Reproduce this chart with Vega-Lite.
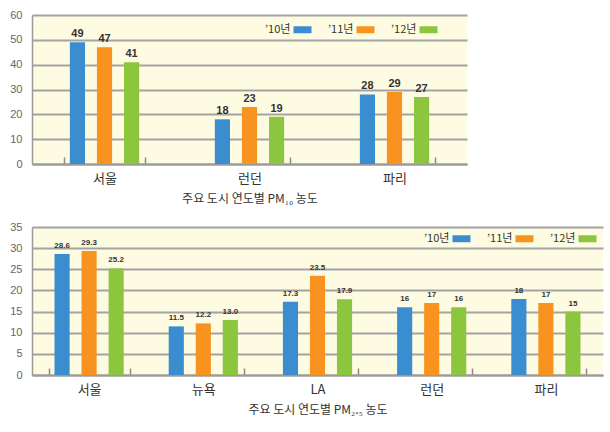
{
  "$schema": "https://vega.github.io/schema/vega-lite/v6.json",
  "background": "white",
  "padding": {"left": 9, "top": 9, "right": 5, "bottom": 5},
  "spacing": 17,
  "datasets": {
    "pm10": [
      {"city": "서울", "year": "’10년", "value": 49, "label": "49"},
      {"city": "서울", "year": "’11년", "value": 47, "label": "47"},
      {"city": "서울", "year": "’12년", "value": 41, "label": "41"},
      {"city": "런던", "year": "’10년", "value": 18, "label": "18"},
      {"city": "런던", "year": "’11년", "value": 23, "label": "23"},
      {"city": "런던", "year": "’12년", "value": 19, "label": "19"},
      {"city": "파리", "year": "’10년", "value": 28, "label": "28"},
      {"city": "파리", "year": "’11년", "value": 29, "label": "29"},
      {"city": "파리", "year": "’12년", "value": 27, "label": "27"}
    ],
    "pm25": [
      {"city": "서울", "year": "’10년", "value": 28.6, "label": "28.6"},
      {"city": "서울", "year": "’11년", "value": 29.3, "label": "29.3"},
      {"city": "서울", "year": "’12년", "value": 25.2, "label": "25.2"},
      {"city": "뉴욕", "year": "’10년", "value": 11.5, "label": "11.5"},
      {"city": "뉴욕", "year": "’11년", "value": 12.2, "label": "12.2"},
      {"city": "뉴욕", "year": "’12년", "value": 13.0, "label": "13.0"},
      {"city": "LA", "year": "’10년", "value": 17.3, "label": "17.3"},
      {"city": "LA", "year": "’11년", "value": 23.5, "label": "23.5"},
      {"city": "LA", "year": "’12년", "value": 17.9, "label": "17.9"},
      {"city": "런던", "year": "’10년", "value": 16, "label": "16"},
      {"city": "런던", "year": "’11년", "value": 17, "label": "17"},
      {"city": "런던", "year": "’12년", "value": 16, "label": "16"},
      {"city": "파리", "year": "’10년", "value": 18, "label": "18"},
      {"city": "파리", "year": "’11년", "value": 17, "label": "17"},
      {"city": "파리", "year": "’12년", "value": 15, "label": "15"}
    ]
  },
  "config": {
    "font": "Noto Sans CJK KR",
    "view": {"fill": "#fefbe3", "stroke": null},
    "axisY": {
      "domainColor": "#9a9a9a", "domainWidth": 1.5,
      "gridColor": "#a3a3a3", "gridWidth": 2, "gridOpacity": 1,
      "ticks": false, "labelPadding": 10, "labelFontSize": 11,
      "labelColor": "#666", "labelFont": "Liberation Sans", "title": null
    },
    "axisX": {
      "domainColor": "#9a9a9a", "domainWidth": 2,
      "tickColor": "#8a8a8a", "tickWidth": 1.5, "tickSize": -7, "tickBand": "extent",
      "labelPadding": 15, "labelFontSize": 13, "labelColor": "#333", "labelAngle": 0,
      "titleFontSize": 12, "titleColor": "#333", "titleFontWeight": "normal", "titlePadding": 8,
      "grid": false
    },
    "legend": {
      "title": null, "orient": "none", "direction": "horizontal",
      "symbolType": "M34,-3.5H52V3.5H34Z", "symbolSize": 4, "symbolStrokeWidth": 0,
      "labelOffset": 0, "columnPadding": 5, "labelFontSize": 11, "labelColor": "#333",
      "labelFont": "Noto Sans CJK KR"
    }
  },
  "resolve": {
    "scale": {"x": "independent", "y": "independent", "xOffset": "independent", "color": "independent"},
    "legend": {"color": "independent"}
  },
  "vconcat": [
    {
      "width": 435, "height": 149,
      "data": {"name": "pm10"},
      "encoding": {
        "x": {"field": "city", "type": "nominal", "sort": ["서울", "런던", "파리"],
              "scale": {"paddingInner": 0.44, "paddingOuter": 0.22},
              "axis": {"title": "주요 도시 연도별 PM₁₀ 농도"}},
        "xOffset": {"field": "year", "type": "nominal", "sort": ["’10년", "’11년", "’12년"],
                    "scale": {"paddingInner": 0.44, "paddingOuter": 0.22}},
        "y": {"field": "value", "type": "quantitative",
              "scale": {"domain": [0, 60], "nice": false},
              "axis": {"values": [0, 10, 20, 30, 40, 50, 60]}}
      },
      "layer": [
        {
          "mark": {"type": "bar"},
          "encoding": {
            "color": {"field": "year", "type": "nominal",
                      "scale": {"domain": ["’10년", "’11년", "’12년"], "range": ["#3a8ecf", "#f7931e", "#8cc63f"]},
                      "legend": {"legendX": 222, "legendY": 9}}
          }
        },
        {
          "mark": {"type": "text", "baseline": "bottom", "dy": -3, "fontSize": 11, "fontWeight": "bold",
                   "color": "#333", "font": "Liberation Sans"},
          "encoding": {"text": {"field": "label"}}
        }
      ]
    },
    {
      "width": 571, "height": 148,
      "data": {"name": "pm25"},
      "encoding": {
        "x": {"field": "city", "type": "nominal", "sort": ["서울", "뉴욕", "LA", "런던", "파리"],
              "scale": {"paddingInner": 0.29, "paddingOuter": 0.145},
              "axis": {"title": "주요 도시 연도별 PM₂.₅ 농도"}},
        "xOffset": {"field": "year", "type": "nominal", "sort": ["’10년", "’11년", "’12년"],
                    "scale": {"paddingInner": 0.44, "paddingOuter": 0.22}},
        "y": {"field": "value", "type": "quantitative",
              "scale": {"domain": [0, 35], "nice": false},
              "axis": {"values": [0, 5, 10, 15, 20, 25, 30, 35]}}
      },
      "layer": [
        {
          "mark": {"type": "bar"},
          "encoding": {
            "color": {"field": "year", "type": "nominal",
                      "scale": {"domain": ["’10년", "’11년", "’12년"], "range": ["#3a8ecf", "#f7931e", "#8cc63f"]},
                      "legend": {"legendX": 381, "legendY": 6}}
          }
        },
        {
          "mark": {"type": "text", "baseline": "bottom", "dy": -4, "fontSize": 8, "fontWeight": "bold",
                   "color": "#333", "font": "Liberation Sans"},
          "encoding": {"text": {"field": "label"}}
        }
      ]
    }
  ]
}
